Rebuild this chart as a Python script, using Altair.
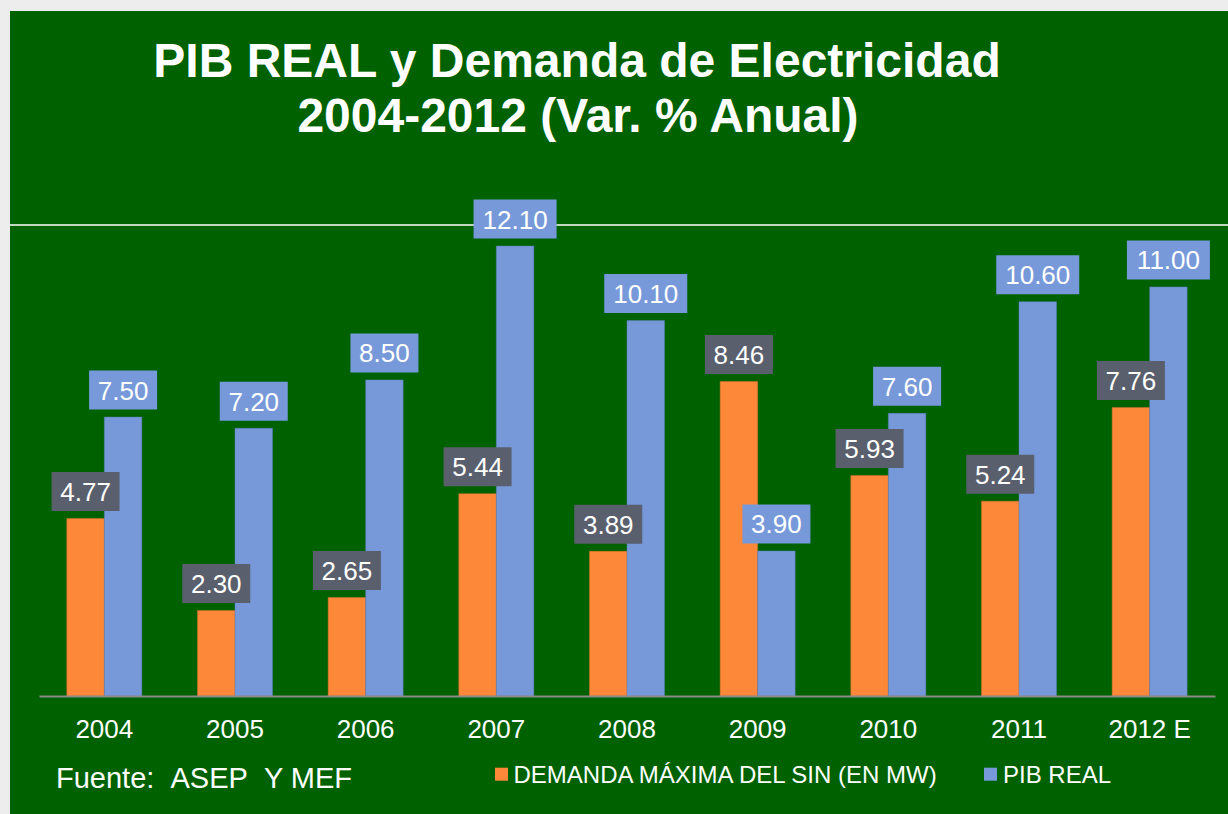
import altair as alt
import pandas as pd

years = ["2004", "2005", "2006", "2007", "2008", "2009", "2010", "2011", "2012 E"]
demanda = [4.77, 2.30, 2.65, 5.44, 3.89, 8.46, 5.93, 5.24, 7.76]
pib = [7.50, 7.20, 8.50, 12.10, 10.10, 3.90, 7.60, 10.60, 11.00]
series = ["DEMANDA MÁXIMA DEL SIN (EN MW)", "PIB REAL"]
title_lines = ["PIB REAL y Demanda de Electricidad", "2004-2012 (Var. % Anual)"]
source_note = "Fuente:\u00a0\u00a0ASEP\u00a0\u00a0Y MEF"

ORANGE = "#FD8839"
BLUE = "#7799D9"
DARK = "#5A5F6E"
GREEN = "#006100"
FONT = "Liberation Sans"

rows = []
for y, d, p in zip(years, demanda, pib):
    rows.append({"year": y, "serie": series[0], "value": d, "label": f"{d:.2f}"})
    rows.append({"year": y, "serie": series[1], "value": p, "label": f"{p:.2f}"})
df = pd.DataFrame(rows)

one = pd.DataFrame({"k": [0]})

x_enc = alt.X(
    "year:N",
    sort=years,
    scale=alt.Scale(paddingInner=0.426, paddingOuter=0.213),
    axis=alt.Axis(
        title=None, ticks=False, labelAngle=0, labelColor="white", labelFontSize=26,
        labelFont=FONT, labelPadding=20, domainColor="#8a8a8a", domainWidth=2,
        grid=False, zindex=2,
    ),
)
xo_enc = alt.XOffset("serie:N", sort=series)
y_enc = alt.Y("value:Q", scale=alt.Scale(domain=[0, 12.638]), axis=None)

bg = alt.Chart(one).mark_rect(color=GREEN).encode(
    x=alt.value(-29), x2=alt.value(1189), y=alt.value(-215), y2=alt.value(600)
)
rule = alt.Chart(one).mark_rule(color="white", strokeWidth=1.3).encode(
    x=alt.value(-29), x2=alt.value(1189), y=alt.value(-1)
)

bars = alt.Chart(df).mark_bar(strokeWidth=0.8, strokeOpacity=0.6).encode(
    x=x_enc,
    xOffset=xo_enc,
    y=y_enc,
    color=alt.Color("serie:N", scale=alt.Scale(domain=series, range=[ORANGE, BLUE]), legend=None),
    stroke=alt.Stroke("serie:N", scale=alt.Scale(domain=series, range=["#d9702a", "#5a7cbf"]), legend=None),
)

box_fill = alt.condition(f"datum.serie == '{series[1]}'", alt.value(BLUE), alt.value(DARK))

boxes4 = alt.Chart(df).transform_filter("length(datum.label) == 4").mark_rect(
    width=68, height=39, yOffset=-27
).encode(x=x_enc, xOffset=xo_enc, y=y_enc, fill=box_fill)

boxes5 = alt.Chart(df).transform_filter("length(datum.label) == 5").mark_rect(
    width=83, height=39, yOffset=-27
).encode(x=x_enc, xOffset=xo_enc, y=y_enc, fill=box_fill)

labels = alt.Chart(df).mark_text(
    dy=-25.5, baseline="middle", align="center", fontSize=26, font=FONT, color="white"
).encode(x=x_enc, xOffset=xo_enc, y=y_enc, text="label:N")

t1 = alt.Chart(pd.DataFrame({"t": [title_lines[0]]})).mark_text(
    fontSize=48, fontWeight="bold", font=FONT, color="white", align="center", baseline="alphabetic"
).encode(x=alt.value(538), y=alt.value(-148.7), text="t:N")
t2 = alt.Chart(pd.DataFrame({"t": [title_lines[1]]})).mark_text(
    fontSize=48, fontWeight="bold", font=FONT, color="white", align="center", baseline="alphabetic"
).encode(x=alt.value(539), y=alt.value(-94.3), text="t:N")

src = alt.Chart(pd.DataFrame({"t": [source_note]})).mark_text(
    fontSize=29, font=FONT, color="white", align="left", baseline="alphabetic"
).encode(x=alt.value(17), y=alt.value(561.7), text="t:N")

leg_sq1 = alt.Chart(one).mark_point(shape="square", filled=True, opacity=1, size=169, color=ORANGE).encode(
    x=alt.value(462.5), y=alt.value(548.2)
)
leg_sq2 = alt.Chart(one).mark_point(shape="square", filled=True, opacity=1, size=169, color=BLUE).encode(
    x=alt.value(951.5), y=alt.value(548.2)
)
leg_t1 = alt.Chart(pd.DataFrame({"t": [series[0]]})).mark_text(
    fontSize=24, font=FONT, color="white", align="left", baseline="alphabetic"
).encode(x=alt.value(474.5), y=alt.value(557.3), text="t:N")
leg_t2 = alt.Chart(pd.DataFrame({"t": [series[1]]})).mark_text(
    fontSize=24, font=FONT, color="white", align="left", baseline="alphabetic"
).encode(x=alt.value(964), y=alt.value(557.3), text="t:N")

chart = alt.layer(
    bg, rule, bars, boxes4, boxes5, labels, t1, t2, src, leg_sq1, leg_sq2, leg_t1, leg_t2
).resolve_scale(color="independent", stroke="independent").properties(
    width=1176,
    height=470,
    autosize=alt.AutoSizeParams(type="none"),
    padding={"left": 39, "top": 226, "right": 13, "bottom": 118},
    background="#ededed",
).configure_view(stroke=None)

chart.save("out.html", embed_options={"renderer": "svg", "actions": False})
